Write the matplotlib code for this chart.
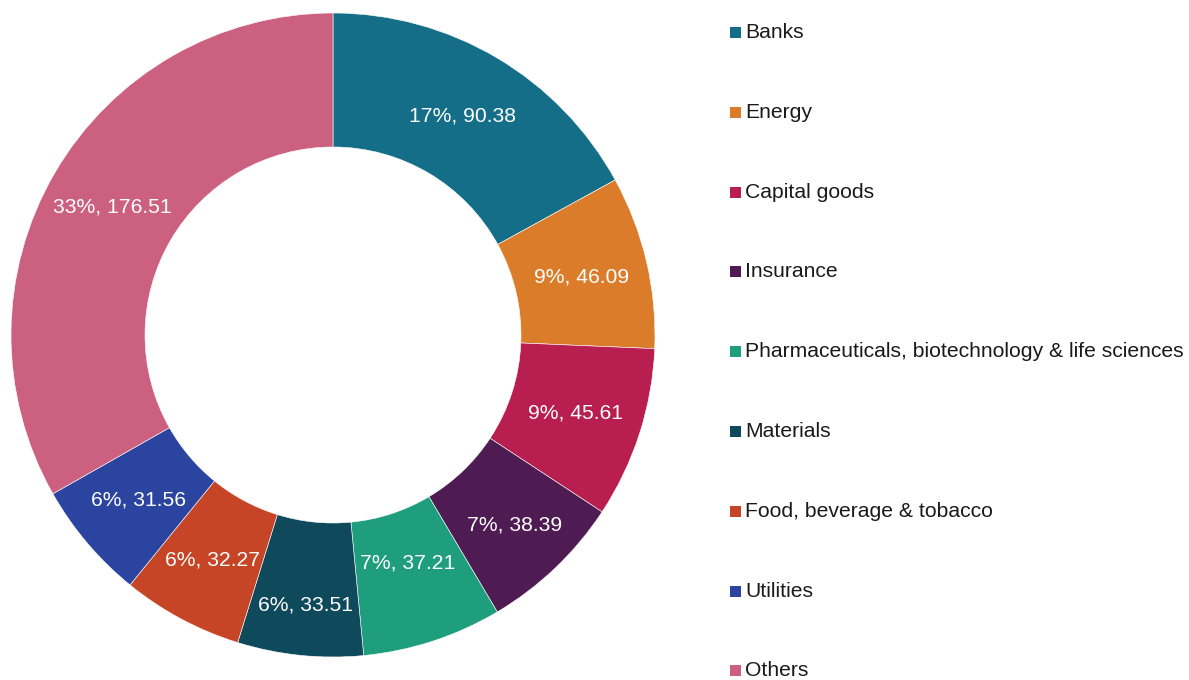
import numpy as np
import matplotlib
matplotlib.use("Agg")
import matplotlib.pyplot as plt
from matplotlib.patches import Rectangle

plt.rcParams['font.family'] = ['Liberation Sans', 'DejaVu Sans']

# Sector breakdown
sectors = ["Banks", "Energy", "Capital goods", "Insurance",
           "Pharmaceuticals, biotechnology & life sciences", "Materials",
           "Food, beverage & tobacco", "Utilities", "Others"]
values = [90.38, 46.09, 45.61, 38.39, 37.21, 33.51, 32.27, 31.56, 176.51]
colors = ["#146E88", "#DB7C2A", "#B91E50", "#4E1B52", "#1E9E7D",
          "#0F4A5C", "#C64527", "#2A44A0", "#CC6081"]

W, H = 1189, 680
fig = plt.figure(figsize=(W / 100, H / 100), dpi=100)

cx, cy, R = 333, 335, 322
ax = fig.add_axes([(cx - R) / W, (H - cy - R) / H, 2 * R / W, 2 * R / H])

ring = 1 - 188 / 322
wedges, _ = ax.pie(values, colors=colors, startangle=90, counterclock=False,
                   radius=1.0, wedgeprops=dict(width=ring, edgecolor="white",
                                               linewidth=0.4))
ax.set_xlim(-1, 1)
ax.set_ylim(-1, 1)
ax.set_aspect("equal")
ax.axis("off")

# Labels in the middle of the ring; a few are nudged apart radially
total = sum(values)
label_r = [1.0, 1.0, 1.0, 1.03, 0.94, 1.065, 1.0, 1.0, 1.0]
mid_r = 1 - ring / 2
for w, v, k in zip(wedges, values, label_r):
    ang = np.deg2rad((w.theta1 + w.theta2) / 2)
    r = mid_r * k
    ax.text(r * np.cos(ang), r * np.sin(ang),
            f"{round(v / total * 100):.0f}%, {v:.2f}",
            ha="center", va="center", color="white", fontsize=15.2)

# Legend on the right
y0, step = 32.5, 79.8
for i, (name, c) in enumerate(zip(sectors, colors)):
    yc = y0 + i * step
    fig.patches.append(Rectangle((730 / W, 1 - (yc + 5.5) / H), 11 / W, 11 / H,
                                 transform=fig.transFigure, facecolor=c,
                                 edgecolor="none"))
    fig.text(745 / W, 1 - yc / H, name, ha="left", va="center",
             fontsize=15.2, color="#1a1a1a")

fig.savefig("out.png", dpi=100)
